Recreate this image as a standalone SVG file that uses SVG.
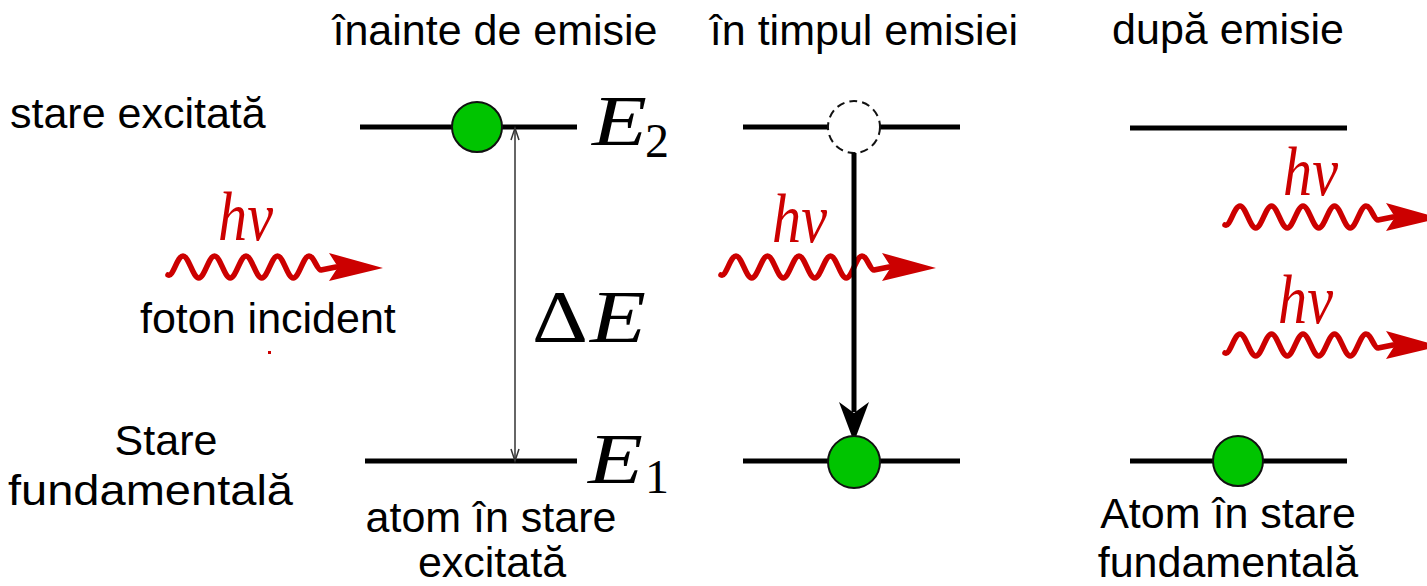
<svg xmlns="http://www.w3.org/2000/svg" xmlns:xlink="http://www.w3.org/1999/xlink" width="1427" height="586" viewBox="0 0 1427 586">
<style>
.lbl{font-family:"Liberation Sans",Arial,sans-serif;font-size:43px;fill:#000}
.mid{text-anchor:middle}
.math{font-family:"Liberation Serif","Times New Roman",serif;font-style:italic;fill:#000}
.sub{font-family:"Liberation Serif","Times New Roman",serif;font-size:48px;fill:#000}
.hv{font-family:"Liberation Serif","Times New Roman",serif;font-style:italic;font-size:70px;fill:#cc0000}
.lvl{stroke:#000;stroke-width:5;fill:none}
.atom{fill:#00c400;stroke:#111;stroke-width:2}
.wave{fill:none;stroke:#cc0000;stroke-width:5.5;stroke-linecap:round;stroke-linejoin:round}
</style>
<defs>
<g id="photon">
<path class="wave" d="M0,8 C5,11 9,-11 15,-11 C20.7,-11 25,11 30.75,11 C36.5,11 40.8,-11 46.5,-11 C52.2,-11 56.5,11 62.25,11 C68,11 72.3,-11 78,-11 C83.7,-11 88,11 93.75,11 C99.5,11 103.8,-11 109.5,-11 C115.2,-11 119.5,11 125.25,11 C131,11 135.3,-11 141,-11 C146,-11 149,3 153,3 L168,0"/>
<path d="M161,-14 L215,1 L161,14 L170,0 Z" fill="#cc0000"/>
</g>
</defs>

<!-- column titles -->
<g id="titles">
<text class="lbl mid" x="495" y="45">înainte de emisie</text>
<text class="lbl mid" x="864" y="45">în timpul emisiei</text>
<text class="lbl mid" x="1228" y="44">după emisie</text>
</g>

<!-- side labels -->
<g id="label-excited">
<text class="lbl" x="10" y="128">stare excitată</text>
</g>
<g id="label-ground">
<text class="lbl mid" x="166" y="455">Stare</text>
<text class="lbl" x="8" y="505" textLength="285" lengthAdjust="spacingAndGlyphs">fundamentală</text>
</g>

<!-- panel 1: before emission -->
<g id="p1-E2">
<line class="lvl" x1="360" y1="127" x2="577" y2="127"/>
<text class="math" x="592" y="145" font-size="72" textLength="55" lengthAdjust="spacingAndGlyphs">E</text>
<text class="sub" x="645" y="157">2</text>
</g>
<g id="p1-E1">
<line class="lvl" x1="365" y1="461" x2="577" y2="461"/>
<text class="math" x="588" y="483" font-size="72" textLength="55" lengthAdjust="spacingAndGlyphs">E</text>
<text class="sub" x="645" y="493">1</text>
</g>
<g id="p1-atom">
<circle class="atom" cx="477" cy="127" r="25"/>
</g>
<g id="p1-photon">
<use xlink:href="#photon" href="#photon" transform="translate(168,267)"/>
<text class="hv" x="218" y="240" textLength="55" lengthAdjust="spacingAndGlyphs">hν</text>
<text class="lbl" x="140" y="333">foton incident</text>
<rect x="268" y="351" width="3" height="3" fill="#cc0000"/>
</g>
<g id="p1-deltaE">
<text font-family="Liberation Serif, serif" font-size="74" x="532" y="342" textLength="56" lengthAdjust="spacingAndGlyphs">Δ</text>
<text class="math" x="590" y="342" font-size="74" textLength="56" lengthAdjust="spacingAndGlyphs">E</text>
</g>
<g id="p1-caption">
<text class="lbl mid" x="491" y="532">atom în stare</text>
<text class="lbl mid" x="492" y="577">excitată</text>
</g>

<!-- panel 2: during emission -->
<g id="p2-E2">
<line class="lvl" x1="743" y1="127" x2="960" y2="127"/>
<circle cx="854" cy="127" r="26" fill="#fff" stroke="#111" stroke-width="2" stroke-dasharray="8,5"/>
</g>
<g id="p2-photon">
<use xlink:href="#photon" href="#photon" transform="translate(721,267)"/>
<text class="hv" x="772" y="242" textLength="55" lengthAdjust="spacingAndGlyphs">hν</text>
</g>
<g id="p2-E1">
<line class="lvl" x1="743" y1="461" x2="960" y2="461"/>
</g>

<!-- panel 3: after emission -->
<g id="p3-E2">
<line class="lvl" x1="1130" y1="128" x2="1347" y2="128"/>
</g>
<g id="p3-photon1">
<use xlink:href="#photon" href="#photon" transform="translate(1225,217)"/>
<text class="hv" x="1283" y="195" textLength="55" lengthAdjust="spacingAndGlyphs">hν</text>
</g>
<g id="p3-photon2">
<use xlink:href="#photon" href="#photon" transform="translate(1225,345)"/>
<text class="hv" x="1278" y="323" textLength="55" lengthAdjust="spacingAndGlyphs">hν</text>
</g>
<g id="p3-E1">
<line class="lvl" x1="1130" y1="461" x2="1347" y2="461"/>
</g>
<g id="p3-caption">
<text class="lbl mid" x="1228" y="528">Atom în stare</text>
<text class="lbl mid" x="1228" y="577">fundamentală</text>
</g>

<!-- connectors -->
<g id="connectors">
<g id="deltaE-arrow" stroke="#333" stroke-width="1.5" fill="none">
<line x1="515" y1="128" x2="515" y2="461"/>
<polyline points="511,140 515,128 519,140"/>
<polyline points="511,449 515,461 519,449"/>
</g>
<g id="transition-arrow">
<line x1="854" y1="153" x2="854" y2="412" stroke="#000" stroke-width="5"/>
<path d="M839,402 L854,413 L869,402 L854,442 Z" fill="#000"/>
</g>
</g>

<!-- atoms drawn on top of levels/arrow -->
<g id="p2-atom">
<circle class="atom" cx="854" cy="462" r="26"/>
</g>
<g id="p3-atom">
<circle class="atom" cx="1238" cy="461" r="25"/>
</g>
</svg>
